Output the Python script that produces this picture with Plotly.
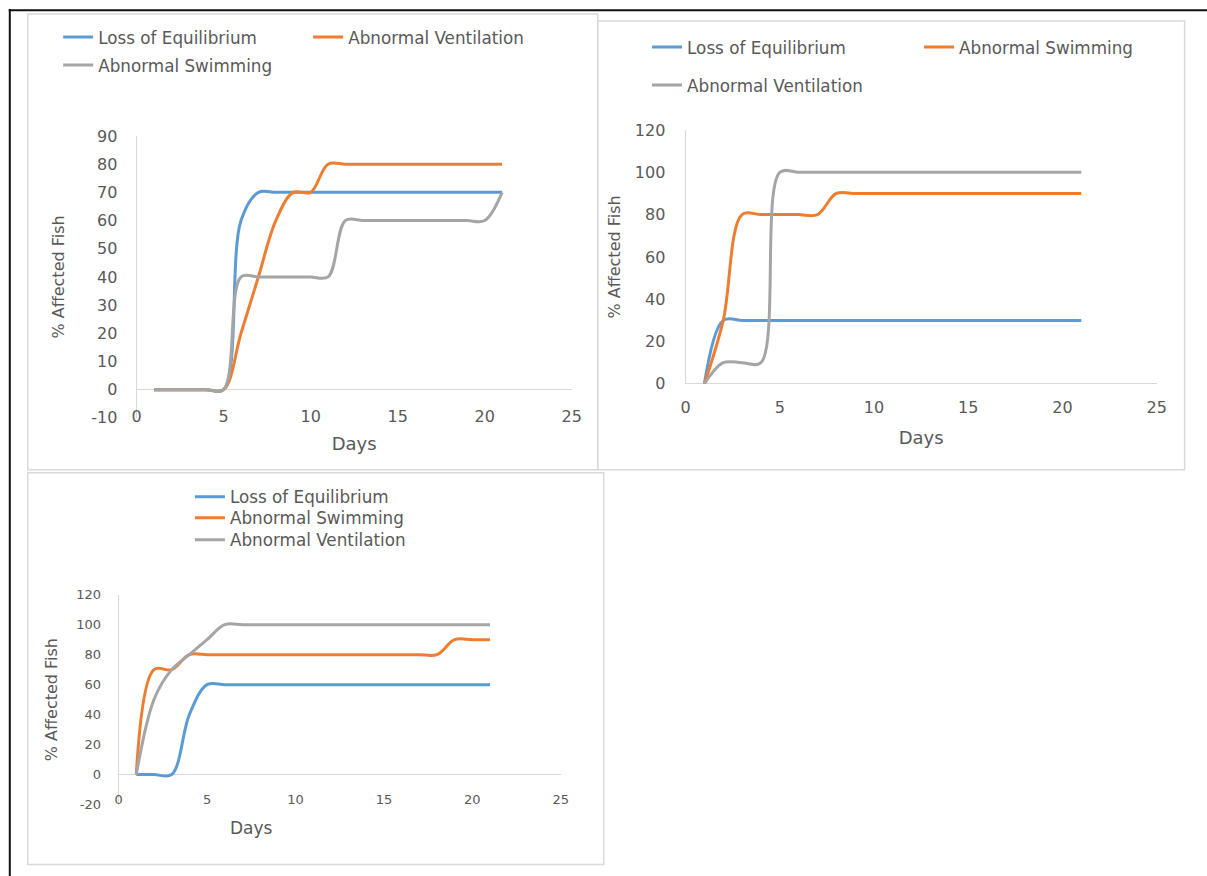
import plotly.graph_objects as go

# ---------------- data ----------------
days = list(range(1, 22))

# Panel 1
p1_loss = [0, 0, 0, 0, 0, 60, 70, 70, 70, 70, 70, 70, 70, 70, 70, 70, 70, 70, 70, 70, 70]
p1_vent = [0, 0, 0, 0, 0, 20, 40, 60, 70, 70, 80, 80, 80, 80, 80, 80, 80, 80, 80, 80, 80]
p1_swim = [0, 0, 0, 0, 0, 40, 40, 40, 40, 40, 40, 60, 60, 60, 60, 60, 60, 60, 60, 60, 70]

# Panel 2
p2_loss = [0, 30, 30, 30, 30, 30, 30, 30, 30, 30, 30, 30, 30, 30, 30, 30, 30, 30, 30, 30, 30]
p2_swim = [0, 30, 80, 80, 80, 80, 80, 90, 90, 90, 90, 90, 90, 90, 90, 90, 90, 90, 90, 90, 90]
p2_vent = [0, 10, 10, 10, 100, 100, 100, 100, 100, 100, 100, 100, 100, 100, 100, 100, 100, 100, 100, 100, 100]

# Panel 3
p3_loss = [0, 0, 0, 40, 60, 60, 60, 60, 60, 60, 60, 60, 60, 60, 60, 60, 60, 60, 60, 60, 60]
p3_swim = [0, 70, 70, 80, 80, 80, 80, 80, 80, 80, 80, 80, 80, 80, 80, 80, 80, 80, 90, 90, 90]
p3_vent = [0, 50, 70, 80, 90, 100, 100, 100, 100, 100, 100, 100, 100, 100, 100, 100, 100, 100, 100, 100, 100]

x_ticks = [0, 5, 10, 15, 20, 25]
x_ticktext = ["0", "5", "10", "15", "20", "25"]
p1_yticks = [-10, 0, 10, 20, 30, 40, 50, 60, 70, 80, 90]
p1_yticktext = ["-10", "0", "10", "20", "30", "40", "50", "60", "70", "80", "90"]
p2_yticks = [0, 20, 40, 60, 80, 100, 120]
p2_yticktext = ["0", "20", "40", "60", "80", "100", "120"]
p3_yticks = [-20, 0, 20, 40, 60, 80, 100, 120]
p3_yticktext = ["-20", "0", "20", "40", "60", "80", "100", "120"]

BLUE = "#5B9BD5"
ORANGE = "#ED7D31"
GRAY = "#A5A5A5"
TXT = "#595959"
AX = "#D9D9D9"
FONT = "DejaVu Sans, Verdana, sans-serif"

# ---------------- geometry helpers (target picture pixels -> paper) ----------------
W, H = 1207, 876
SX, AXOFF = 0.9894, 3.2
SY, AYOFF = 0.979, 9.9


def px(T):
    return (T - AXOFF) / SX


def py(T):
    return (T - AYOFF) / SY


def fx(T):
    return px(T) / W


def fy(T):
    return 1 - py(T) / H


fig = go.Figure()


def add(xa, ya, y, name, color, legend):
    fig.add_trace(go.Scatter(
        x=days, y=y, name=name, mode="lines",
        line=dict(color=color, width=3, shape="spline", smoothing=1.0),
        xaxis=xa, yaxis=ya, legend=legend, hoverinfo="x+y+name"))


add("x", "y", p1_loss, "Loss of Equilibrium", BLUE, "legend")
add("x", "y", p1_vent, "Abnormal Ventilation", ORANGE, "legend")
add("x", "y", p1_swim, "Abnormal Swimming", GRAY, "legend2")

add("x2", "y2", p2_loss, "Loss of Equilibrium", BLUE, "legend3")
add("x2", "y2", p2_swim, "Abnormal Swimming", ORANGE, "legend3")
add("x2", "y2", p2_vent, "Abnormal Ventilation", GRAY, "legend4")

add("x3", "y3", p3_loss, "Loss of Equilibrium", BLUE, "legend5")
add("x3", "y3", p3_swim, "Abnormal Swimming", ORANGE, "legend6")
add("x3", "y3", p3_vent, "Abnormal Ventilation", GRAY, "legend7")


def xaxis(dom, anchor, size, standoff, title, title_standoff):
    return dict(domain=dom, anchor=anchor, range=[0, 25], tickvals=x_ticks,
                ticktext=x_ticktext,
                showgrid=False, zeroline=False, showline=False, ticks="",
                tickfont=dict(family=FONT, size=size, color=TXT),
                ticklabelstandoff=standoff,
                title=dict(text=title, font=dict(family=FONT, size=18, color=TXT),
                           standoff=title_standoff),
                fixedrange=True)


def yaxis(dom, anchor, rng, tv, tt, size, standoff, title_standoff):
    return dict(domain=dom, anchor=anchor, range=rng, tickvals=tv, ticktext=tt,
                showgrid=False, zeroline=True, zerolinecolor=AX, zerolinewidth=1,
                showline=True, linecolor=AX, linewidth=1, ticks="",
                tickfont=dict(family=FONT, size=size, color=TXT),
                ticklabelstandoff=standoff,
                title=dict(text="% Affected Fish", font=dict(family=FONT, size=16, color=TXT),
                           standoff=title_standoff),
                fixedrange=True)


def leg(text_x, ypx, ew=205, size=16.8):
    return dict(x=(px(text_x) - 42) / W, y=fy(ypx), xanchor="left", yanchor="middle",
                orientation="h", font=dict(family=FONT, size=size, color=TXT),
                bgcolor="rgba(0,0,0,0)", borderwidth=0, entrywidth=ew,
                entrywidthmode="pixels", itemclick=False, itemdoubleclick=False)


shapes = []
# outer black border (top and left)
shapes.append(dict(type="line", xref="paper", yref="paper", x0=fx(7), x1=1.2,
                   y0=1 - 1.2 / H, y1=1 - 1.2 / H, line=dict(color="#111111", width=2)))
shapes.append(dict(type="line", xref="paper", yref="paper", x0=fx(8), x1=fx(8),
                   y0=-0.2, y1=1, line=dict(color="#111111", width=2)))
# panel frames
for (x0, y0, x1, y1) in [(26, 15, 597, 471), (597, 22, 1185, 471), (26, 474, 603, 866)]:
    shapes.append(dict(type="rect", xref="paper", yref="paper",
                       x0=fx(x0), x1=fx(x1), y0=max(fy(y1), 1.0 / H), y1=fy(y0),
                       line=dict(color=AX, width=1.5), fillcolor="rgba(0,0,0,0)"))

annotations = [
    dict(text="Days", xref="paper", yref="paper", x=fx(250), y=fy(829),
         xanchor="center", yanchor="middle", showarrow=False,
         font=dict(family=FONT, size=17, color=TXT)),
]

fig.update_layout(
    width=W, height=H, autosize=False,
    margin=dict(l=0, r=0, t=0, b=0),
    paper_bgcolor="white", plot_bgcolor="white",
    showlegend=True,
    xaxis=xaxis([fx(135), fx(571)], "y", 16, -13, "Days", 12),
    yaxis=yaxis([fy(419), fy(137)], "x", [-10, 90], p1_yticks, p1_yticktext, 16, 15, 22),
    xaxis2=xaxis([fx(685), fx(1157)], "y2", 16, 12, "Days", 15),
    yaxis2=yaxis([fy(385), fy(131)], "x2", [0, 120], p2_yticks, p2_yticktext, 16, 16, 10),
    xaxis3=xaxis([fx(117), fx(560)], "y3", 13, -15, "", 10),
    yaxis3=yaxis([fy(806), fy(596)], "x3", [-20, 120], p3_yticks, p3_yticktext, 13, 14, 14),
    legend=leg(98, 38),
    legend2=leg(98, 66),
    legend3=leg(688, 48, 227),
    legend4=leg(688, 86, 227),
    legend5=leg(230, 498),
    legend6=leg(230, 519),
    legend7=leg(230, 541),
    shapes=shapes,
    annotations=annotations,
)

fig.write_html(
    "out.html",
    config={"displayModeBar": False},
    post_script="document.documentElement.style.margin='0';document.body.style.margin='0';"
                "document.body.style.overflow='hidden';",
)
